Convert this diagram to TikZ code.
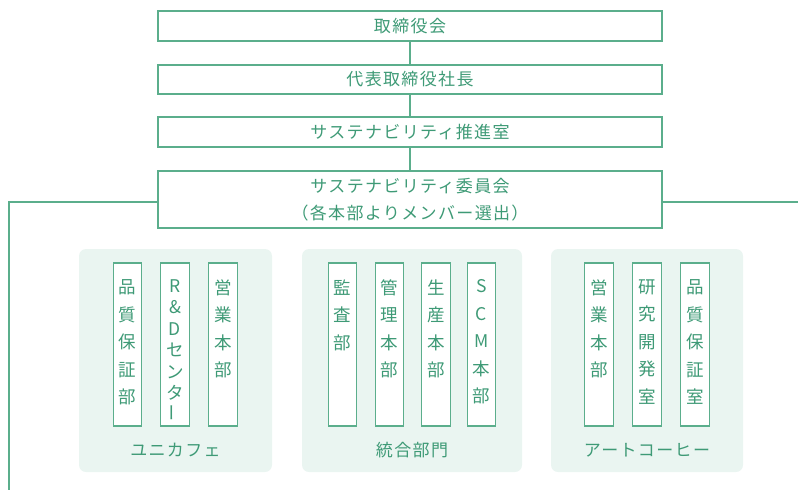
\documentclass[tikz,border=0pt]{standalone}
\usepackage{fontspec}
\setmainfont{Noto Sans CJK JP}
\newfontfamily\spaced[LetterSpace=8]{Noto Sans CJK JP}
\definecolor{lg}{HTML}{5BAE8C}
\definecolor{tg}{HTML}{3E9A76}
\definecolor{pf}{HTML}{EAF5F1}
\begin{document}
\begin{tikzpicture}[x=1pt,y=-1pt,
  topbox/.style={draw=lg,line width=1.3pt,minimum width=504pt,inner sep=0pt,text=tg,font=\spaced\fontsize{17}{27}\selectfont,align=center},
  panel/.style={fill=pf,rounded corners=7pt,inner sep=0pt},
  colbox/.style={draw=lg,line width=1.3pt,fill=white,minimum width=28.5pt,minimum height=163pt,inner sep=0pt},
  coltext/.style={text=tg,inner sep=0pt,anchor=north,align=center,font=\fontsize{17.5}{27.5}\selectfont},
  coltextR/.style={text=tg,inner sep=0pt,anchor=north,align=center,font=\fontsize{17.5}{21.5}\selectfont},
  plabel/.style={text=tg,inner sep=0pt,font=\spaced\fontsize{17}{20}\selectfont},
  conn/.style={draw=lg,line width=1.3pt}]
\useasboundingbox (0,0) rectangle (798,490);
% top chain
\node[topbox,minimum height=30pt] (b1) at (410,26) {取締役会};
\node[topbox,minimum height=29pt] (b2) at (410,79.5) {代表取締役社長};
\node[topbox,minimum height=30pt] (b3) at (410,132) {サステナビリティ推進室};
\node[topbox,minimum height=57pt] (b4) at (410,199.5) {サステナビリティ委員会\\（各本部よりメンバー選出）};
\draw[conn] (b1) -- (b2);
\draw[conn] (b2) -- (b3);
\draw[conn] (b3) -- (b4);
\coordinate (lc) at (9,202);
\coordinate (lb) at (9,490);
\coordinate (rc) at (798,202);
\draw[conn] (b4.west |- lc) -- (lc) -- (lb);
\draw[conn] (b4.east |- rc) -- (rc);
% panels
\node[panel,minimum width=193pt,minimum height=223pt] (p1) at (175.5,360.5) {};
\node[panel,minimum width=220pt,minimum height=223pt] (p2) at (412,360.5) {};
\node[panel,minimum width=192pt,minimum height=223pt] (p3) at (647,360.5) {};
% group 1
\node[colbox] (c11) at (127.5,344.5) {};
\node[colbox] (c12) at (175,344.5) {};
\node[colbox] (c13) at (223,344.5) {};
\node[coltext] (t11) at ([yshift=-17pt]c11.north) {品\\質\\保\\証\\部};
\node[coltextR] (t12) at ([yshift=-17pt]c12.north) {R\\\&\\D\\セ\\ン\\タ\\\rotatebox{90}{ー}};
\node[coltext] (t13) at ([yshift=-17pt]c13.north) {営\\業\\本\\部};
\node[plabel] (l1) at (175.5,450) {ユニカフェ};
% group 2
\node[colbox] (c21) at (342.5,344.5) {};
\node[colbox] (c22) at (389.5,344.5) {};
\node[colbox] (c23) at (436,344.5) {};
\node[colbox] (c24) at (481.5,344.5) {};
\node[coltext] (t21) at ([yshift=-17pt]c21.north) {監\\査\\部};
\node[coltext] (t22) at ([yshift=-17pt]c22.north) {管\\理\\本\\部};
\node[coltext] (t23) at ([yshift=-17pt]c23.north) {生\\産\\本\\部};
\node[coltext] (t24) at ([yshift=-17pt]c24.north) {S\\C\\M\\本\\部};
\node[plabel] (l2) at (412,450) {統合部門};
% group 3
\node[colbox] (c31) at (599,344.5) {};
\node[colbox] (c32) at (647,344.5) {};
\node[colbox] (c33) at (695,344.5) {};
\node[coltext] (t31) at ([yshift=-17pt]c31.north) {営\\業\\本\\部};
\node[coltext] (t32) at ([yshift=-17pt]c32.north) {研\\究\\開\\発\\室};
\node[coltext] (t33) at ([yshift=-17pt]c33.north) {品\\質\\保\\証\\室};
\node[plabel] (l3) at (647,450) {アートコーヒー};
\end{tikzpicture}
\end{document}
